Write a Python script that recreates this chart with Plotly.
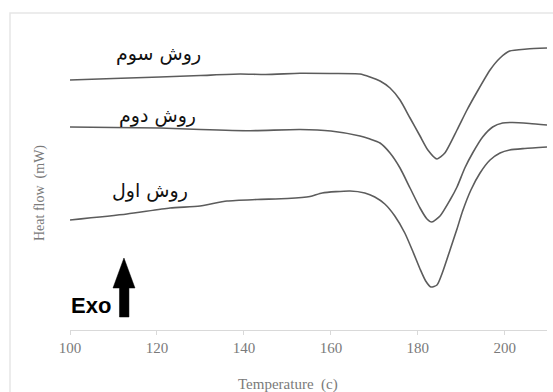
import plotly.graph_objects as go

# DSC thermograms for three preparation methods (heat flow, arbitrary offset units)
temp_method3 = [100, 110, 120.7, 130, 139.1, 145, 152.9, 160, 166.7, 169.0, 171.3, 173.6,
                175.9, 178.2, 180.5, 182.3, 184.4, 186.2, 189.0, 191.3, 193.6, 196.6,
                198.9, 201.1, 205.1, 209.7]
flow_method3 = [25.0, 25.15, 25.3, 25.45, 25.6, 25.55, 25.67, 25.65, 25.6, 25.3, 24.9, 24.2,
                23.0, 21.2, 19.4, 18.0, 17.1, 17.7, 20.0, 22.0, 23.8, 26.0,
                27.2, 27.9, 28.1, 28.2]

temp_method2 = [100, 110, 120.7, 130, 141.4, 152.9, 160, 166.7, 169.0, 171.3, 173.6, 175.9,
                178.2, 180.5, 182.1, 183.2, 185.1, 187.4, 189.0, 190.8, 192.6, 194.9,
                197.2, 199.5, 201.8, 205.7, 209.7]
flow_method2 = [20.3, 20.25, 20.2, 20.05, 19.93, 20.05, 19.9, 19.4, 19.1, 18.7, 17.7, 16.2,
                14.2, 12.2, 11.1, 10.8, 11.4, 13.0, 14.3, 16.2, 17.7, 19.3,
                20.3, 20.7, 20.75, 20.65, 20.5]

temp_method1 = [100, 113.1, 123, 129.9, 136.1, 143, 150, 155.2, 158, 164.4, 167.8, 170.1,
                172.4, 174.7, 177.0, 178.9, 180.5, 181.8, 183.0, 184.4, 185.7, 187.4,
                189.0, 190.3, 192.2, 194.3, 196.6, 198.9, 201.1, 204.6, 209.7]
flow_method1 = [11.0, 11.6, 12.2, 12.4, 12.9, 13.05, 13.15, 13.35, 13.7, 13.9, 13.7, 13.3,
                12.6, 11.4, 9.7, 7.8, 6.1, 4.9, 4.3, 4.5, 5.8, 8.0,
                10.1, 11.9, 14.0, 15.7, 17.0, 17.7, 18.0, 18.15, 18.3]

series_labels = ["روش سوم", "روش دوم", "روش اول"]
label_x = [120.4, 120.2, 118.4]
label_y = [27.7, 21.5, 14.0]

x_ticks = [100, 120, 140, 160, 180, 200]

line_style = dict(color="#5c5c5c", width=1.6, shape="spline", smoothing=0.6)

fig = go.Figure()
for tx, fy in [(temp_method3, flow_method3), (temp_method2, flow_method2), (temp_method1, flow_method1)]:
    fig.add_trace(go.Scatter(x=tx, y=fy, mode="lines", line=line_style,
                             showlegend=False, hoverinfo="skip"))

annotations = []
for text, lx, ly in zip(series_labels, label_x, label_y):
    annotations.append(dict(x=lx, y=ly, xref="x", yref="y", text=text, showarrow=False,
                            font=dict(family="DejaVu Sans", size=19, color="#111111"),
                            xanchor="center", yanchor="middle"))

annotations.append(dict(x=104.83, y=2.5, xref="x", yref="y", text="<b>Exo</b>", showarrow=False,
                        font=dict(family="Liberation Sans", size=22, color="#000000"),
                        xanchor="center", yanchor="middle"))

annotations.append(dict(x=0.457, y=-0.18, xref="paper", yref="paper", text="Temperature  (c)",
                        showarrow=False, xanchor="center", yanchor="middle",
                        font=dict(family="Liberation Serif", size=15, color="#7a7a7a")))
annotations.append(dict(x=-0.063, y=0.449, xref="paper", yref="paper", text="Heat flow  (mW)",
                        showarrow=False, xanchor="center", yanchor="middle", textangle=-90,
                        font=dict(family="Liberation Serif", size=14, color="#7a7a7a")))

# "Exo" direction arrow drawn as a filled polygon
arrow_path = ("M 111.38 1.3 L 111.38 4.2 L 109.89 4.2 L 112.41 7.2 "
              "L 114.94 4.2 L 113.56 4.2 L 113.56 1.3 Z")

shapes = [
    dict(type="path", path=arrow_path, xref="x", yref="y",
         fillcolor="#000000", line=dict(color="#000000", width=0.5)),
    dict(type="rect", xref="paper", yref="paper", x0=-0.1258, x1=1.03, y0=-0.25, y1=1.039,
         line=dict(color="#e6e6e6", width=1.5), fillcolor="rgba(0,0,0,0)", layer="below"),
]

fig.update_layout(
    width=553, height=392,
    margin=dict(l=70, r=6, t=25, b=62),
    paper_bgcolor="white", plot_bgcolor="white",
    annotations=annotations, shapes=shapes,
    xaxis=dict(range=[100, 209.7], tickvals=x_ticks, ticktext=[str(v) for v in x_ticks],
               showgrid=False, zeroline=False, showline=True, linecolor="#d9d9d9", linewidth=1,
               ticks="outside", ticklen=4, tickcolor="#d9d9d9",
               tickfont=dict(family="Liberation Serif", size=15, color="#7a7a7a")),
    yaxis=dict(range=[0, 30.5], showgrid=False, zeroline=False, showline=False,
               showticklabels=False, ticks=""),
)

fig.write_html("out.html")
